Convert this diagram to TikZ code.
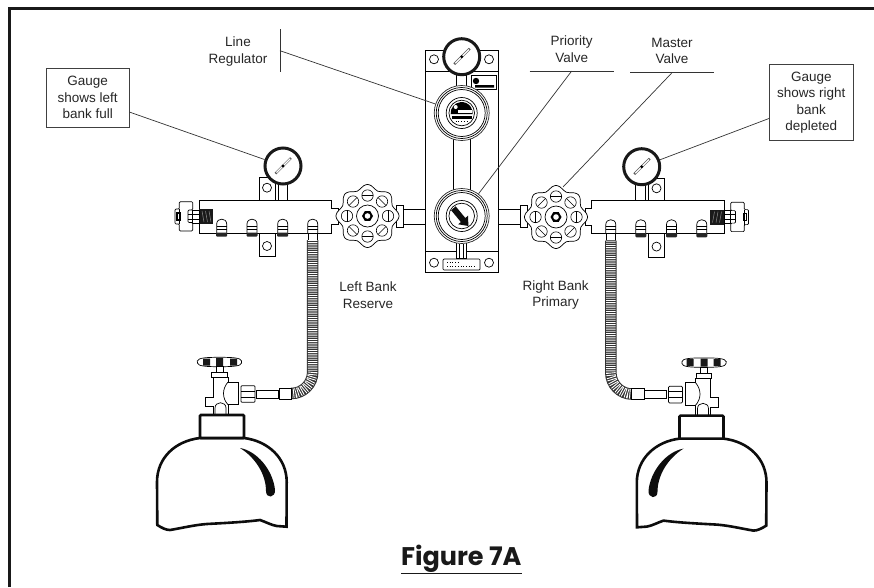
\documentclass[tikz,border=0pt]{standalone}
\usepackage{fontspec}
\setmainfont{Liberation Sans}
\newfontfamily\titlefont{Poppins}
\begin{document}
\begin{tikzpicture}[x=1pt, y=-1pt, line width=0.7pt,
  every node/.style={font=\fontsize{13.5}{16.5}\selectfont, text=black!85, align=center},
  callout/.style={draw=black!75, line width=0.8pt, inner sep=0pt},
  leader/.style={draw=black!80, line width=0.7pt},
  gaugedial/.style={circle, draw=black!90, line width=3pt, fill=white, minimum size=36pt, inner sep=0pt},
  ringbody/.style={circle, draw=black!85, fill=white, minimum size=55pt, inner sep=0pt},
  gaugeneedle/.pic={
    \draw[black!65, line width=2.4pt] (-7.5,7.5) -- (8,-8);
    \draw[white, line width=1.2pt] (-6.5,6.5) -- (7.2,-7.2);
    \fill (0,0) circle (1.6);
  },
  valvewheel/.pic={
    \draw[fill=white] plot[smooth cycle, domain=0:352.5, samples=48] (\x:{29.2+2.4*cos(8*\x)});
    \foreach \a in {0,45,...,315} {
      \draw[rotate=\a, line width=0.6pt] (20.5,0) circle (5.7);
      \draw[rotate=\a, line width=0.6pt] (20.5,-5.7) -- (20.5,5.7);
    }
    \draw (0,0) circle (11);
    \fill (0:5.5) -- (60:5.5) -- (120:5.5) -- (180:5.5) -- (240:5.5) -- (300:5.5) -- cycle;
    \fill[white] (0,0) circle (2.8);
  },
  bank/.pic={
    \draw[fill=white] (259.3,177.7) rectangle (275,200.7);
    \draw (267,187.7) circle (4.5);
    \draw[fill=white] (259.3,233) rectangle (275,256.5);
    \draw (267,246) circle (4.5);
    \draw[fill=white] (278.3,180) rectangle (287.7,200);
    \draw[fill=white] (403,209) rectangle (434,224);
    \draw[fill=white] (396,205) rectangle (403,227);
    \draw[fill=white] (199.3,200) -- (331.7,200) -- (331.7,208) -- (338,208) -- (338,224.5) -- (331.7,224.5) -- (331.7,233) -- (199.3,233) -- cycle;
    \fill[black!90] (199.3,209) rectangle (213.3,224);
    \foreach \x in {202,205.5,209} \draw[black!45, line width=0.5pt] (\x,211) -- (\x+2,222);
    \draw[fill=white] (192.7,210) rectangle (199.3,223);
    \draw[fill=white, rounded corners=1pt] (179.3,201.7) -- (192.7,201.7) -- (192.7,210) -- (188,210) -- (188,222.5) -- (192.7,222.5) -- (192.7,231) -- (179.3,231) -- (179.3,224) -- (175,224) -- (175,209) -- (179.3,209) -- cycle;
    \draw (188,214) -- (199.3,214) (188,219) -- (199.3,219) (179.3,209) -- (179.3,224);
    \draw[line width=1.2pt] (177,213) rectangle (180,220);
    \foreach \x in {221.7,252,282.7,312.7} {
      \draw[shift={(\x,0)}, fill=white] (-5,233) -- (-5,224) .. controls (-5,217.5) and (5,217.5) .. (5,224) -- (5,233);
      \draw[shift={(\x,0)}] (-5,226) -- (5,226) (-5,229) -- (5,229);
    }
    \foreach \x in {221.7,252,282.7} \fill[black!85, shift={(\x,0)}, rounded corners=1pt] (-5.5,232.5) rectangle (5.5,236.7);
    \draw[fill=white] (308.2,233) rectangle (317.2,240);
    \draw[black!80, line width=11.5pt] (312.7,240) -- (312.7,372) arc[start angle=0, end angle=90, radius=21.5] -- (290.5,393.5);
    \draw[white, line width=9.5pt, dash pattern=on 0.9pt off 1.3pt] (312.7,240) -- (312.7,372) arc[start angle=0, end angle=90, radius=21.5] -- (290.5,393.5);
    \draw[fill=white] (279,388) rectangle (291.7,399);
    \draw[fill=white] (256.7,390) rectangle (279,398);
    \draw[line width=1.2pt] (279,390) -- (279,398);
    \draw[fill=white, rounded corners=1pt] (241,385.7) rectangle (255,402.3);
    \draw (241,391) -- (255,391) (241,397) -- (255,397);
    \draw[fill=white, rounded corners=1pt] (197.3,362) .. controls (198,358) and (205,357.3) .. (219.5,357.3) .. controls (234,357.3) and (241,358) .. (241.7,362) .. controls (241,366) and (234,366.7) .. (219.5,366.7) .. controls (205,366.7) and (198,366) .. (197.3,362) -- cycle;
    \fill[black!90] (203,358.5) rectangle (210,365.5) (216,358) rectangle (223,366) (230,358.5) rectangle (237,365.5);
    \draw[fill=white] (216,366.7) rectangle (223.3,373);
    \draw[fill=white] (211.7,372.7) rectangle (227.3,377.3);
    \draw[fill=white] (213,377.3) -- (213,397) -- (205,397) -- (205,406.7) -- (213,406.7) -- (213,414.5) -- (228.3,414.5) -- (228.3,404.7) -- (238,404.7) -- (238,382) -- (228,382) -- (228,377.3) -- cycle;
    \draw[fill=white] (215,414.5) -- (215,408) .. controls (215,401) and (226,401) .. (226,408) -- (226,414.5);
    \draw (228,382) .. controls (222,389) and (222,398) .. (228,404.7);
    \draw[black!95, fill=white, line width=2.6pt] (200,438) .. controls (175,441) and (157,458) .. (157,482) -- (157.3,525) .. controls (162,528) and (166,530) .. (170,530) .. controls (182,528) and (194,525) .. (206.7,524) .. controls (225,523) and (245,522) .. (260,520) .. controls (266,522) and (271,525) .. (276.7,526) -- (286.5,526.7) -- (286.7,482) .. controls (286.7,458) and (268,441) .. (244,438) -- cycle;
    \draw[black!95, fill=white, line width=2.6pt, rounded corners=1pt] (200,438) rectangle (244,415);
    \fill[black!95] (240,448) .. controls (257,451) and (273,470) .. (275,490) .. controls (275.5,498) and (266,499) .. (266,491) .. controls (266,475) and (256,458) .. (240,448) -- cycle;
  }]
\useasboundingbox (0,0) rectangle (874,587);
\draw[black!90, line width=3pt] (9.5,587) -- (9.5,8.7) -- (874,8.7);
\pic at (0,0) {bank};
\pic[xscale=-1] at (923.5,0.6) {bank};
\draw[fill=white] (425,50) rectangle (498.3,272.3);
\draw (425,71.7) -- (498.3,71.7) (425,251.7) -- (498.3,251.7);
\draw (434,59.3) circle (4.5) (489,59.3) circle (4.5) (434,262.7) circle (4.5) (489,262.7) circle (4.5);
\draw[fill=white] (456,72) rectangle (466.7,88);
\draw[fill=white, line width=0.9pt] (471.7,75.7) rectangle (496.7,89.3);
\fill (476,81) circle (3.2) (475,85) rectangle (494,87.5);
\draw[fill=white] (453,135) rectangle (470,195);
\draw[fill=white] (456,240) rectangle (466.7,258);
\draw (459.5,244) -- (459.5,258) (463.2,244) -- (463.2,258);
\draw[fill=white, rounded corners=1pt] (443,259) rectangle (480,270);
\draw[dotted] (447,262) -- (458,262) (447,266) -- (476,266);
\node[gaugedial] (gaugetop) at (461.7,56.7) {};
\node[gaugedial] (gaugeleft) at (283,166) {};
\node[gaugedial] (gaugeright) at (641.7,166.7) {};
\pic at (gaugetop) {gaugeneedle};
\pic at (gaugeleft) {gaugeneedle};
\pic at (gaugeright) {gaugeneedle};
\pic at (367.5,216) {valvewheel};
\pic at (556,217) {valvewheel};
\coordinate (masterknob) at (563,187);
\node[ringbody] (lineregulator) at (461.7,113) {};
\node[ringbody] (priorityvalve) at (461.7,216) {};
\foreach \y in {113,216} {
  \draw (461.7,\y) circle (25.5) (461.7,\y) circle (23.5) (461.7,\y) circle (15.5) (461.7,\y) circle (12.8);
}
\begin{scope}[shift={(461.7,113)}]
\fill (-11,1) arc[start angle=175, end angle=365, radius=11] -- cycle;
\fill[white] (-4,-3) rectangle (10,-0.5);
\fill[white] (-6,-6) circle (2);
\fill (-10,3) rectangle (10,5.5);
\draw[dotted] (-6,8) -- (6,8);
\end{scope}
\fill[black!95, shift={(461.7,216)}] (-10.55,-5.7) -- (-0.85,6) -- (-3.5,8.3) -- (6.7,10) -- (6.3,-0.3) -- (3.65,2) -- (-6.05,-9.7) -- cycle;
\node[callout, minimum width=83pt, minimum height=59pt] (gaugeleftnote) at (87.7,97.4) {Gauge\\shows left\\bank full};
\node[callout, minimum width=84pt, minimum height=76pt] (gaugerightnote) at (811.3,102.5) {Gauge\\shows right\\bank\\depleted};
\node (reguname) at (238,51.5) {Line\\Regulator};
\node (priorityname) at (571.7,49) {Priority\\Valve};
\node (mastername) at (672,51) {Master\\Valve};
\node (leftbank) at (368,295) {Left Bank\\Reserve};
\node (rightbank) at (555.7,295) {Right Bank\\Primary};
\coordinate (regubar) at (280,50.7);
\coordinate (priorityrule) at (571.7,71);
\coordinate (masterrule) at (672,72.7);
\draw[leader] ([yshift=21.4pt]regubar) -- ([yshift=-21pt]regubar);
\draw[leader] ([xshift=-42pt]priorityrule) -- ([xshift=42pt]priorityrule);
\draw[leader] ([xshift=-42pt]masterrule) -- ([xshift=42pt]masterrule);
\draw[leader] (regubar) -- (lineregulator);
\draw[leader] (priorityrule) -- (priorityvalve);
\draw[leader] (masterrule) -- (masterknob);
\draw[leader] (gaugeleftnote) -- (gaugeleft);
\draw[leader] (gaugerightnote) -- (gaugeright);
\node[font=\fontsize{25.5}{30}\selectfont\titlefont\bfseries, text=black!90] (figname) at (461.3,559.5) {\underline{Figure 7A}};
\end{tikzpicture}
\end{document}
